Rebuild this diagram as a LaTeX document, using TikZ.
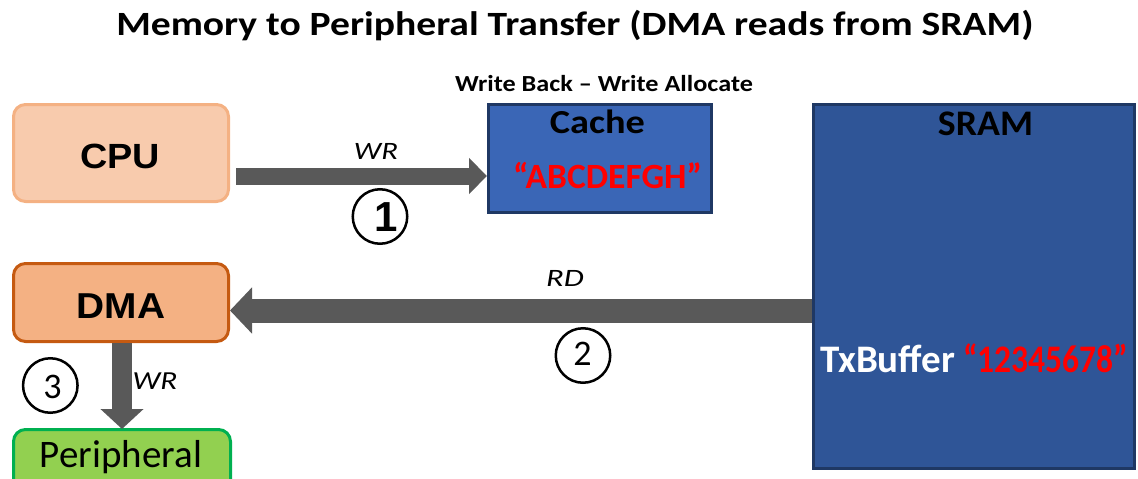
\documentclass[tikz,border=0pt]{standalone}
\usepackage{graphicx}
\usepackage{fontspec}
\setmainfont{Carlito}
\newfontfamily\arialf{Liberation Sans}
\usetikzlibrary{arrows.meta}
\definecolor{cpufill}{HTML}{F8CBAD}
\definecolor{cpuline}{HTML}{F4B183}
\definecolor{dmafill}{HTML}{F4B183}
\definecolor{dmaline}{HTML}{C55A11}
\definecolor{perfill}{HTML}{92D050}
\definecolor{perline}{HTML}{00B050}
\definecolor{cachefill}{HTML}{3A66B6}
\definecolor{sramfill}{HTML}{2F5597}
\definecolor{memline}{HTML}{1F3864}
\definecolor{arrowgray}{HTML}{595959}
\definecolor{txtred}{HTML}{FF0000}
\newcommand\hsc[2]{\scalebox{#1}[1]{#2}}
\newcommand\fsz[1]{\fontsize{#1}{#1}\selectfont}
\tikzset{
  unitbox/.style={draw, line width=3pt, inner sep=0pt},
  roundbox/.style={unitbox, rounded corners=12pt},
  bigarrow/.style={draw=arrowgray, fill=arrowgray},
  stepcircle/.style={circle, draw=black, line width=2.5pt, minimum size=54.5pt, inner sep=0pt},
  lbl/.style={inner sep=0pt, anchor=base},
}
\begin{document}
\begin{tikzpicture}[x=1pt,y=-1pt]
\useasboundingbox (0,0) rectangle (1138,479);
\clip (0,0) rectangle (1138,479);
% title
\node[lbl] (title) at (575,35) {\hsc{1.164}{\fsz{34}\bfseries Memory to Peripheral Transfer (DMA reads from SRAM)}};
% boxes
\node[roundbox, fill=cpufill, draw=cpuline, minimum width=215pt, minimum height=97pt] (cpu) at (121,153) {};
\node[lbl] (cputxt) at (120,168) {\hsc{1.08}{\arialf\fsz{35}\bfseries CPU}};
\node[roundbox, fill=dmafill, draw=dmaline, minimum width=215pt, minimum height=78pt] (dma) at (121,302.5) {};
\node[lbl] (dmatxt) at (121,318) {\hsc{1.08}{\arialf\fsz{36}\bfseries DMA}};
\node[roundbox, fill=perfill, draw=perline, minimum width=217pt, minimum height=80pt] (per) at (122,469.5) {};
\node[lbl] (pertxt) at (121,467) {\fsz{39}Peripheral};
\node[unitbox, fill=cachefill, draw=memline, minimum width=223pt, minimum height=108pt] (cache) at (600,158.5) {};
\node[lbl] (cachetxt) at (597.5,133.3) {\hsc{1.14}{\fsz{33.6}\bfseries Cache}};
\node[lbl, text=txtred] (abc) at (607.5,188) {\fsz{35.5}\bfseries “ABCDEFGH”};
\node[lbl] (wbwa) at (604,91.7) {\hsc{1.14}{\fsz{23}\bfseries Write Back -- Write Allocate}};
\node[unitbox, fill=sramfill, draw=memline, minimum width=321pt, minimum height=364pt] (sram) at (974,286.5) {};
\node[lbl] (sramtxt) at (985.5,135) {\hsc{1.05}{\fsz{36}\bfseries SRAM}};
\node[lbl, anchor=base west] (txb) at (820,372) {\fsz{39}\bfseries\textcolor{white}{TxBuffer}\hspace{8pt}\hsc{0.86}{\textcolor{txtred}{“12345678”}}};
% arrows
\coordinate (a1s) at (236,176);
\draw[bigarrow, line width=17pt, -{Triangle[length=18pt,width=35pt]}] (a1s) -- (a1s -| cache.west);
\coordinate (a2s) at (812,310.5);
\draw[bigarrow, line width=24pt, -{Triangle[length=22pt,width=45pt]}] (a2s -| sram.west) -- (a2s -| dma.east);
\coordinate (a3s) at (122,0);
\draw[bigarrow, line width=20pt, -{Triangle[length=20pt,width=42pt]}] (a3s |- dma.south) -- ([yshift=-1pt]a3s |- per.north);
% labels
\node[lbl] (wr1) at (376,159) {\hsc{1.23}{\fsz{25}\itshape WR}};
\node[lbl] (rd) at (565,286) {\hsc{1.3}{\fsz{25}\itshape RD}};
\node[lbl] (wr3) at (155,389) {\hsc{1.2}{\fsz{26}\itshape WR}};
\node[stepcircle] (c1) at (380,216.5) {};
\node[lbl] (n1) at (386,231.7) {\arialf\fsz{42}\bfseries 1};
\node[stepcircle] (c2) at (583,355.5) {};
\node[lbl] (n2) at (582.5,365) {\fsz{36}2};
\node[stepcircle] (c3) at (50.3,385.5) {};
\node[lbl] (n3) at (52.5,398) {\fsz{36}3};
\end{tikzpicture}
\end{document}
